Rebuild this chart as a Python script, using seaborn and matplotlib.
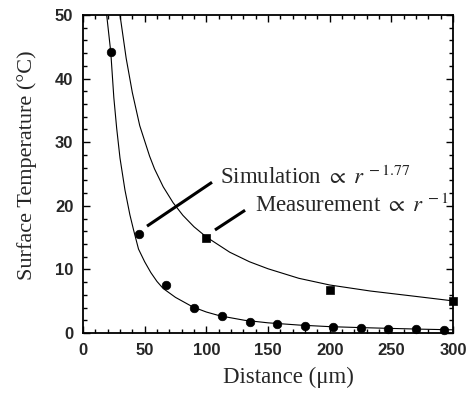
import numpy as np
import pandas as pd
import matplotlib
matplotlib.use("Agg")
import matplotlib.pyplot as plt
import seaborn as sns
from matplotlib.ticker import MultipleLocator

# simulation points (circles)
sim_x = [22.5, 45, 67.5, 90, 112.5, 135, 157.5, 180, 202.5, 225, 247.5, 270, 292.5]
sim_y = [44.2, 15.6, 7.5, 4.0, 2.6, 1.7, 1.4, 1.1, 0.95, 0.8, 0.7, 0.6, 0.5]

# measurement points (squares)
meas_x = [100, 200, 300]
meas_y = [15.0, 6.7, 5.1]

# fitted curves
sim_fit_x = [19.2, 22.5, 25, 27.3, 30, 34, 38, 41, 45, 50, 55, 60, 65, 75, 89, 100, 111, 131, 150, 175, 200, 225, 250, 275, 300]
sim_fit_y = [50, 44.2, 37.0, 32.2, 27.5, 22.5, 18.6, 16.2, 13.2, 11.2, 9.5, 8.1, 7.0, 5.6, 4.1, 3.3, 2.7, 2.0, 1.6, 1.25, 1.0, 0.85, 0.72, 0.6, 0.5]

meas_fit_x = [30, 35, 40, 46, 54, 58, 65, 73, 81, 90, 100, 119, 135, 150, 175, 200, 233, 270, 300]
meas_fit_y = [50, 43.2, 37.8, 32.6, 27.8, 25.8, 23.0, 20.5, 18.5, 16.7, 15.1, 12.7, 11.2, 10.1, 8.6, 7.55, 6.6, 5.75, 5.05]

sns.set_style("ticks")
plt.rcParams["font.family"] = ["Liberation Serif", "DejaVu Serif"]
plt.rcParams["mathtext.fontset"] = "stix"

fig = plt.figure(figsize=(4.74, 3.93), dpi=100)
ax = fig.add_axes([83 / 474, 1 - 333 / 393, 370 / 474, 318 / 393])

sns.lineplot(x=sim_fit_x, y=sim_fit_y, ax=ax, color="black", linewidth=0.8, sort=False)
sns.lineplot(x=meas_fit_x, y=meas_fit_y, ax=ax, color="black", linewidth=0.8, sort=False)
sns.scatterplot(x=sim_x, y=sim_y, ax=ax, color="black", marker="o", s=38, edgecolor="black", clip_on=False, zorder=3)
sns.scatterplot(x=meas_x, y=meas_y, ax=ax, color="black", marker="s", s=36, edgecolor="black", clip_on=False, zorder=3)

ax.set_xlim(0, 300)
ax.set_ylim(0, 50)
ax.xaxis.set_major_locator(MultipleLocator(50))
ax.xaxis.set_minor_locator(MultipleLocator(10))
ax.yaxis.set_major_locator(MultipleLocator(10))
ax.yaxis.set_minor_locator(MultipleLocator(2))
ax.tick_params(which="both", direction="in", top=True, right=True, width=1.0, color="black")
ax.tick_params(which="major", length=5, pad=7)
ax.tick_params(which="minor", length=3)
for lab in ax.get_xticklabels() + ax.get_yticklabels():
    lab.set_fontfamily("Liberation Sans")
    lab.set_fontweight("bold")
    lab.set_fontsize(12)
for sp in ax.spines.values():
    sp.set_linewidth(1.3)
    sp.set_color("black")

ax.set_xlabel("Distance (μm)", fontsize=16.5)
ax.set_ylabel("Surface Temperature (°C)", fontsize=16)
ax.xaxis.set_label_coords(0.554, -0.105)
ax.yaxis.set_label_coords(-0.125, 0.528)

# annotation pointers
ax.plot([51.9, 104.6], [16.8, 23.7], color="black", linewidth=2.2, solid_capstyle="butt")
ax.plot([107, 131.4], [16.2, 19.3], color="black", linewidth=2.2, solid_capstyle="butt")
ax.text(111, 23.5, r"Simulation $\propto\ r^{\,-1.77}$", fontsize=16.5, ha="left", va="baseline")
ax.text(139.5, 19.07, r"Measurement $\propto\ r^{\,-1}$", fontsize=16.5, ha="left", va="baseline", clip_on=False)

fig.savefig("out.png", dpi=100)
